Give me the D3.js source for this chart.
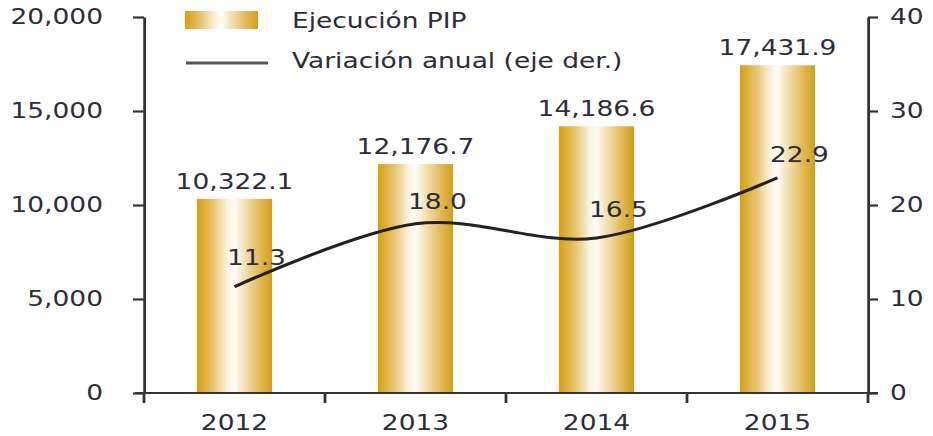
<!DOCTYPE html>
<html>
<head>
<meta charset="utf-8">
<script src="https://cdn.jsdelivr.net/npm/d3@7"></script>
<style>
  body { margin: 0; background: #fff; }
  text { font-family: "DejaVu Sans", Verdana, sans-serif; fill: #2d2d38; }
</style>
</head>
<body>
<svg id="chart" width="933" height="436"></svg>
<script>
const years = ["2012", "2013", "2014", "2015"]
const pip = [10322.1, 12176.7, 14186.6, 17431.9]
const variacion = [11.3, 18.0, 16.5, 22.9]
const leftTicks = [0, 5000, 10000, 15000, 20000]
const rightTicks = [0, 10, 20, 30, 40]

// the reference looks stretched sideways, so draw in a squeezed group
const sx = 1.26
const fontSize = 21

const svg = d3.select("#chart")
const g = svg.append("g").attr("transform", "scale(" + sx + ",1)")

const x = d3.scaleBand().domain(years).range([144 / sx, 868 / sx]).padding(0)
const yL = d3.scaleLinear().domain([0, 20000]).range([393, 17])
const yR = d3.scaleLinear().domain([0, 40]).range([393, 17])

const barW = x.bandwidth() * 0.415

// golden gradient for the bars
const grad = svg.append("defs").append("linearGradient")
  .attr("id", "gold").attr("x1", 0).attr("x2", 1).attr("y1", 0).attr("y2", 0)
const stops = [
  [0, "#d6a014"], [0.22, "#e6c56e"], [0.4, "#faf1da"], [0.5, "#fffdf8"],
  [0.62, "#f4e4bd"], [0.85, "#e0b754"], [1, "#d49f16"]
]
stops.forEach(s => grad.append("stop").attr("offset", s[0]).attr("stop-color", s[1]))

// bars
g.selectAll(".bar")
  .data(pip)
  .enter().append("rect")
    .attr("class", "bar")
    .attr("x", (d, i) => x(years[i]) + (x.bandwidth() - barW) / 2)
    .attr("y", d => yL(d))
    .attr("width", barW)
    .attr("height", d => yL(0) - yL(d))
    .attr("fill", "url(#gold)")

// bar labels
g.selectAll(".barlabel")
  .data(pip)
  .enter().append("text")
    .attr("class", "barlabel")
    .attr("x", (d, i) => x(years[i]) + x.bandwidth() / 2)
    .attr("y", d => yL(d) - 10)
    .attr("text-anchor", "middle")
    .style("font-size", fontSize + "px")
    .text(d => d3.format(",.1f")(d))

// left axis
const axL = g.append("g")
  .attr("transform", "translate(" + 144 / sx + ",0)")
  .call(d3.axisLeft(yL).tickValues(leftTicks).tickFormat(d3.format(","))
    .tickSize(11 / sx).tickSizeOuter(0).tickPadding(30 / sx))

// right axis
const axR = g.append("g")
  .attr("transform", "translate(" + 868 / sx + ",0)")
  .call(d3.axisRight(yR).tickValues(rightTicks).tickFormat(d3.format("d"))
    .tickSize(10 / sx).tickSizeOuter(0).tickPadding(12 / sx))

;[axL, axR].forEach(ax => {
  ax.selectAll("path, line").attr("stroke", "#333").attr("stroke-width", 2.2)
  ax.selectAll("text").style("font-size", fontSize + "px").attr("fill", "#2d2d38")
    .attr("font-family", "DejaVu Sans")
})

// x axis line and boundary ticks
g.append("line")
  .attr("x1", 135 / sx).attr("x2", 878 / sx)
  .attr("y1", yL(0)).attr("y2", yL(0))
  .attr("stroke", "#333").attr("stroke-width", 2.2)

const bounds = years.map(d => x(d)).concat([x.range()[1]])
g.selectAll(".xtick")
  .data(bounds)
  .enter().append("line")
    .attr("class", "xtick")
    .attr("x1", d => d).attr("x2", d => d)
    .attr("y1", yL(0)).attr("y2", yL(0) + 10)
    .attr("stroke", "#333").attr("stroke-width", 2.2)

g.selectAll(".xlabel")
  .data(years)
  .enter().append("text")
    .attr("class", "xlabel")
    .attr("x", d => x(d) + x.bandwidth() / 2)
    .attr("y", 430)
    .attr("text-anchor", "middle")
    .style("font-size", fontSize + "px")
    .text(d => d)

// smoothed line on right axis
const line = d3.line()
  .x((d, i) => x(years[i]) + x.bandwidth() / 2)
  .y(d => yR(d))
  .curve(d3.curveCardinal.tension(0))

g.append("path")
  .datum(variacion)
  .attr("d", line)
  .attr("fill", "none")
  .attr("stroke", "#222")
  .attr("stroke-width", 3)

// labels were placed by hand in the original
const labelDy = [-22, -15, -21, -16]
g.selectAll(".linelabel")
  .data(variacion)
  .enter().append("text")
    .attr("class", "linelabel")
    .attr("x", (d, i) => x(years[i]) + x.bandwidth() / 2 + 22 / sx)
    .attr("y", (d, i) => yR(d) + labelDy[i])
    .attr("text-anchor", "middle")
    .style("font-size", fontSize + "px")
    .text(d => d3.format(".1f")(d))

// legend
g.append("rect")
  .attr("x", 185 / sx).attr("y", 11)
  .attr("width", 73 / sx).attr("height", 18)
  .attr("fill", "url(#gold)")
g.append("text")
  .attr("x", 292 / sx).attr("y", 28)
  .style("font-size", fontSize + "px")
  .text("Ejecución PIP")
g.append("line")
  .attr("x1", 186 / sx).attr("x2", 268 / sx)
  .attr("y1", 63).attr("y2", 63)
  .attr("stroke", "#555").attr("stroke-width", 3)
g.append("text")
  .attr("x", 292 / sx).attr("y", 68)
  .style("font-size", fontSize + "px")
  .text("Variación anual (eje der.)")
</script>
</body>
</html>
